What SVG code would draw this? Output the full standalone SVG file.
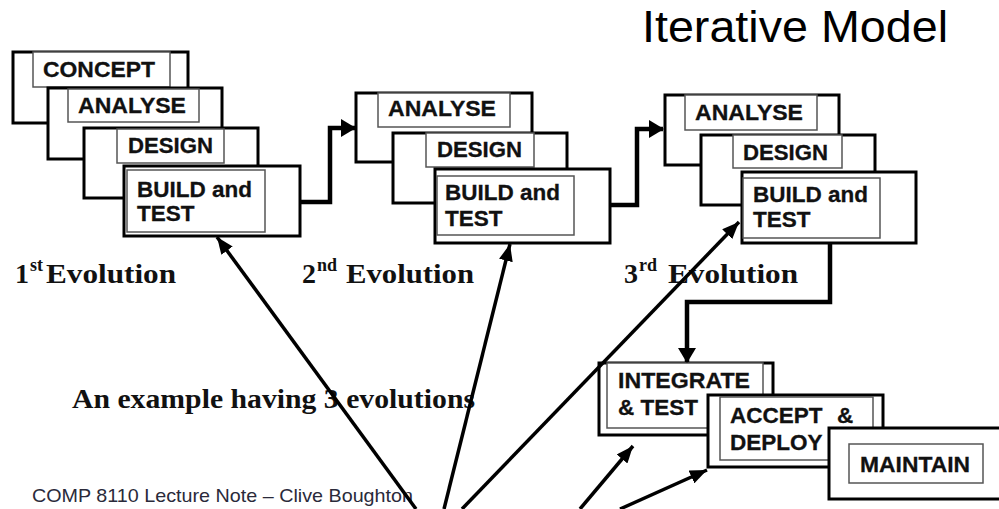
<svg xmlns="http://www.w3.org/2000/svg" width="999" height="509" viewBox="0 0 999 509">
<style>
.outer{fill:#fff;stroke:#000;stroke-width:3}
.lbl{fill:#fff;stroke:#555;stroke-width:1.5}
.tx{font-family:"Liberation Sans",Arial,sans-serif;font-weight:bold;font-size:22.5px;fill:#111;stroke:#111;stroke-width:0.3}
.serif{font-family:"Liberation Serif","Times New Roman",serif;font-weight:bold;fill:#111}
.conn{fill:none;stroke:#000;stroke-width:4.5}
.ptr{fill:none;stroke:#000;stroke-width:3.5}
</style>
<defs>
<marker id="headBig" markerUnits="userSpaceOnUse" markerWidth="15" markerHeight="18" refX="14" refY="9" orient="auto">
<path d="M0,0 L15,9 L0,18 z" fill="#000"/>
</marker>
<marker id="headPtr" markerUnits="userSpaceOnUse" markerWidth="17" markerHeight="14" refX="17" refY="7" orient="auto">
<path d="M0,0 L17,7 L0,14 z" fill="#000"/>
</marker>
</defs>
<rect width="999" height="509" fill="#fff"/>

<text x="642" y="42" font-family="'Liberation Sans',Arial,sans-serif" font-size="44" textLength="306" lengthAdjust="spacingAndGlyphs" fill="#000">Iterative Model</text>

<!-- Evolution 1 -->
<g id="e1-concept">
<rect class="outer" x="13" y="52" width="175" height="71"/>
<rect class="lbl" x="33" y="52" width="137" height="35"/>
<text class="tx" x="43" y="77" textLength="112" lengthAdjust="spacingAndGlyphs">CONCEPT</text>
</g>
<g id="e1-analyse">
<rect class="outer" x="48" y="88" width="174" height="71"/>
<rect class="lbl" x="68" y="89" width="131" height="33"/>
<text class="tx" x="78" y="113" textLength="108" lengthAdjust="spacingAndGlyphs">ANALYSE</text>
</g>
<g id="e1-design">
<rect class="outer" x="84" y="128" width="174" height="70"/>
<rect class="lbl" x="117" y="129" width="107" height="34"/>
<text class="tx" x="128" y="153" textLength="85" lengthAdjust="spacingAndGlyphs">DESIGN</text>
</g>
<g id="e1-build">
<rect class="outer" x="124" y="166" width="176" height="70"/>
<rect class="lbl" x="127" y="170" width="138" height="62"/>
<text class="tx" x="137" y="197" textLength="115" lengthAdjust="spacingAndGlyphs">BUILD and</text>
<text class="tx" x="137" y="221">TEST</text>
</g>

<!-- Evolution 2 -->
<g id="e2-analyse">
<rect class="outer" x="356" y="93" width="176" height="69"/>
<rect class="lbl" x="378" y="93" width="132" height="34"/>
<text class="tx" x="388" y="116" textLength="108" lengthAdjust="spacingAndGlyphs">ANALYSE</text>
</g>
<g id="e2-design">
<rect class="outer" x="393" y="133" width="174" height="70"/>
<rect class="lbl" x="426" y="133" width="108" height="34"/>
<text class="tx" x="437" y="157" textLength="85" lengthAdjust="spacingAndGlyphs">DESIGN</text>
</g>
<g id="e2-build">
<rect class="outer" x="435" y="169" width="175" height="74"/>
<rect class="lbl" x="437" y="176" width="137" height="59"/>
<text class="tx" x="445" y="200" textLength="115" lengthAdjust="spacingAndGlyphs">BUILD and</text>
<text class="tx" x="445" y="226">TEST</text>
</g>

<!-- Evolution 3 -->
<g id="e3-analyse">
<rect class="outer" x="665" y="95" width="174" height="70"/>
<rect class="lbl" x="685" y="95" width="132" height="35"/>
<text class="tx" x="695" y="120" textLength="108" lengthAdjust="spacingAndGlyphs">ANALYSE</text>
</g>
<g id="e3-design">
<rect class="outer" x="701" y="135" width="174" height="70"/>
<rect class="lbl" x="733" y="135" width="109" height="33"/>
<text class="tx" x="743" y="160" textLength="85" lengthAdjust="spacingAndGlyphs">DESIGN</text>
</g>
<g id="e3-build">
<rect class="outer" x="742" y="172" width="174" height="71"/>
<rect class="lbl" x="743" y="178" width="137" height="60"/>
<text class="tx" x="753" y="202" textLength="115" lengthAdjust="spacingAndGlyphs">BUILD and</text>
<text class="tx" x="753" y="227">TEST</text>
</g>

<!-- Final stages -->
<g id="integrate">
<rect class="outer" x="599" y="363" width="174" height="72"/>
<rect class="lbl" x="607" y="363" width="156" height="65"/>
<text class="tx" x="618" y="388" textLength="132" lengthAdjust="spacingAndGlyphs">INTEGRATE</text>
<text class="tx" x="618" y="415">&amp; TEST</text>
</g>
<g id="accept">
<rect class="outer" x="708" y="395" width="175" height="72"/>
<rect class="lbl" x="720" y="397" width="153" height="63"/>
<text class="tx" x="730" y="423">ACCEPT<tspan x="837">&amp;</tspan></text>
<text class="tx" x="730" y="450">DEPLOY</text>
</g>
<g id="maintain">
<rect class="outer" x="829" y="428" width="175" height="71"/>
<rect class="lbl" x="849" y="444" width="134" height="39"/>
<text class="tx" x="860" y="472" textLength="110" lengthAdjust="spacingAndGlyphs">MAINTAIN</text>
</g>

<!-- Labels -->
<g id="labels">
<text class="serif" x="15" y="283" font-size="28">1</text>
<text class="serif" x="30" y="271" font-size="18">st</text>
<text class="serif" x="46" y="283" font-size="28" textLength="130" lengthAdjust="spacingAndGlyphs">Evolution</text>
<text class="serif" x="302" y="283" font-size="28">2</text>
<text class="serif" x="317" y="271" font-size="18">nd</text>
<text class="serif" x="346" y="283" font-size="28" textLength="128" lengthAdjust="spacingAndGlyphs">Evolution</text>
<text class="serif" x="624" y="283" font-size="28">3</text>
<text class="serif" x="639" y="271" font-size="18">rd</text>
<text class="serif" x="668" y="283" font-size="28" textLength="130" lengthAdjust="spacingAndGlyphs">Evolution</text>
<text class="serif" x="72" y="408" font-size="27" textLength="403" lengthAdjust="spacingAndGlyphs">An example having 3 evolutions</text>
<text x="32" y="502" font-family="'Liberation Sans',Arial,sans-serif" font-size="19" textLength="381" lengthAdjust="spacingAndGlyphs" fill="#2a2a3a">COMP 8110 Lecture Note – Clive Boughton</text>
</g>

<!-- Connectors -->
<g id="connectors">
<path class="conn" d="M300,202 H330 V128 H355" marker-end="url(#headBig)"/>
<path class="conn" d="M610,205 H637 V129 H663" marker-end="url(#headBig)"/>
<path class="conn" d="M830,243 V302 H687 V362" marker-end="url(#headBig)"/>
<path class="ptr" d="M416,509 L217,237" marker-end="url(#headPtr)"/>
<path class="ptr" d="M444,509 L510,244" marker-end="url(#headPtr)"/>
<path class="ptr" d="M462,509 L739,222" marker-end="url(#headPtr)"/>
<path class="ptr" d="M580,509 L633,446" marker-end="url(#headPtr)"/>
<path class="ptr" d="M620,509 L707,470" marker-end="url(#headPtr)"/>
</g>
</svg>
